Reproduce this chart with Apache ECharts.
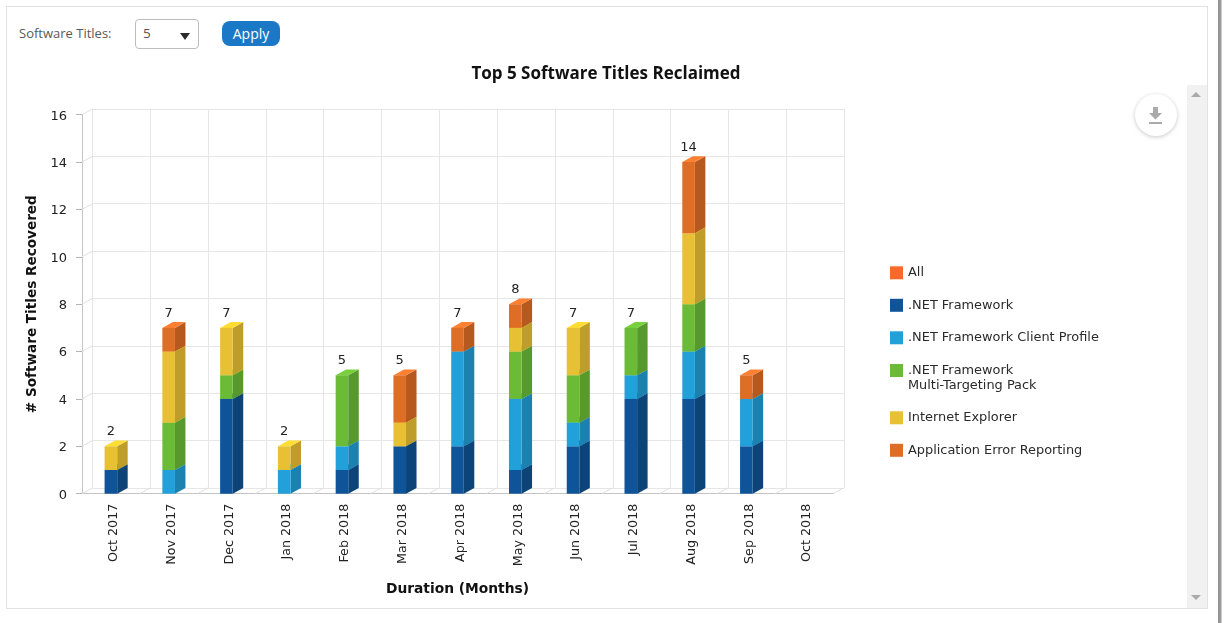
<!DOCTYPE html>
<html>
<head>
<meta charset="utf-8">
<title>Top 5 Software Titles Reclaimed</title>
<script src="https://cdn.jsdelivr.net/npm/echarts@6/dist/echarts.min.js"></script>
<style>
  html, body { margin: 0; padding: 0; background: #fff; }
  body { width: 1225px; height: 623px; position: relative; overflow: hidden; }
  #card { position: absolute; left: 6px; top: 6px; width: 1200px; height: 601px; border: 1.5px solid #e2e2e2; }
  #edge { position: absolute; left: 1218px; top: 0; width: 4px; height: 623px; background: linear-gradient(to right, #8f8f8f, #9a9a9a 60%, #e0e0e0); }
  #track { position: absolute; left: 1187px; top: 85px; width: 20px; height: 523px; background: #f1f1f1; }
  .arrow { position: absolute; left: 1191px; width: 0; height: 0; border-left: 5px solid transparent; border-right: 5px solid transparent; }
  #up { top: 92px; border-bottom: 5px solid #aaa; }
  #down { top: 595px; border-top: 5px solid #aaa; }
  #lbl { position: absolute; left: 19px; top: 24px; font: 13px "Open Sans", sans-serif; color: #5a5a5a; }
  #sel { position: absolute; left: 135px; top: 19px; width: 62px; height: 28px; border: 1px solid #bdbdbd; border-radius: 4px; font: 13.5px "Open Sans", sans-serif; color: #555; }
  #sel span { position: absolute; left: 7px; top: 4px; }
  #sel i { position: absolute; left: 44px; top: 13px; width: 0; height: 0; border-left: 5px solid transparent; border-right: 5px solid transparent; border-top: 7px solid #2b2b2b; }
  #apply { position: absolute; left: 222px; top: 21px; width: 58px; height: 25px; background: #1b78c6; border-radius: 8px; color: #fff; font: 14px/25px "Open Sans", sans-serif; text-align: center; }
  #dl { position: absolute; left: 1135px; top: 94px; width: 42px; height: 42px; border-radius: 50%; background: #fff; box-shadow: 0 1px 4px rgba(0,0,0,.22); }
  #dl svg { position: absolute; left: 13px; top: 12px; }
  #chart { position: absolute; left: 0; top: 0; width: 1225px; height: 623px; }
</style>
</head>
<body>
<div id="card"></div>
<div id="edge"></div>
<div id="track"></div>
<div id="up" class="arrow"></div>
<div id="down" class="arrow"></div>
<div id="lbl">Software Titles:</div>
<div id="sel"><span>5</span><i></i></div>
<div id="apply">Apply</div>
<div id="chart"></div>
<div id="dl"><svg width="16" height="20" viewBox="0 0 16 20"><path d="M5 1h5v6h4l-6.5 6.5L1 7h4z" fill="#aaa"/><rect x="1" y="16" width="13" height="2" fill="#aaa"/></svg></div>
<script>
// Months on the category axis
const months = ['Oct 2017', 'Nov 2017', 'Dec 2017', 'Jan 2018', 'Feb 2018', 'Mar 2018', 'Apr 2018',
                'May 2018', 'Jun 2018', 'Jul 2018', 'Aug 2018', 'Sep 2018', 'Oct 2018'];
const yTicks = [0, 2, 4, 6, 8, 10, 12, 14, 16];

// Titles reclaimed per month, one array per software title
const dotNet        = [1, 0, 4, 0, 1, 2, 2, 1, 2, 4, 4, 2, 0];
const clientProfile = [0, 1, 0, 1, 1, 0, 4, 3, 1, 1, 2, 2, 0];
const multiTarget   = [0, 2, 1, 0, 3, 0, 0, 2, 2, 2, 2, 0, 0];
const ie            = [1, 3, 2, 1, 0, 1, 0, 1, 2, 0, 3, 0, 0];
const appError      = [0, 1, 0, 0, 0, 2, 1, 1, 0, 0, 3, 1, 0];
const totals        = [2, 7, 7, 2, 5, 5, 7, 8, 7, 7, 14, 5, 0];

const multiName = '.NET Framework Multi-Targeting Pack';
const stackDefs = [
  { name: '.NET Framework', values: dotNet, front: '#0f5499', side: '#0c4478', top: '#1161a8' },
  { name: '.NET Framework Client Profile', values: clientProfile, front: '#21a0da', side: '#1b82b0', top: '#2ab0ee' },
  { name: multiName, values: multiTarget, front: '#6cbb37', side: '#58992d', top: '#78d03d' },
  { name: 'Internet Explorer', values: ie, front: '#e8c034', side: '#bf9d2b', top: '#ffdd33' },
  { name: 'Application Error Reporting', values: appError, front: '#de6e26', side: '#b5591f', top: '#ff8030' }
];

// Depth of the extruded columns and of the back wall, in pixels
const DEPTH_X = 10.5;
const DEPTH_Y = 5.8;
const FONT = '"DejaVu Sans", Verdana, sans-serif';

function poly(points, fill) {
  return { type: 'polygon', shape: { points }, style: { fill }, silent: true };
}

// Column segment: front face, right side and top face
function renderSegment(def) {
  return function (params, api) {
    const band = api.size([1, 0])[0];
    const half = band * 0.109;
    const low = api.coord([api.value(0), api.value(1)]);
    const high = api.coord([api.value(0), api.value(2)]);
    const l = low[0] - half, r = low[0] + half;
    return {
      type: 'group',
      children: [
        poly([[r, high[1]], [r + DEPTH_X, high[1] - DEPTH_Y], [r + DEPTH_X, low[1] - DEPTH_Y], [r, low[1]]], def.side),
        poly([[l, high[1]], [l + DEPTH_X, high[1] - DEPTH_Y], [r + DEPTH_X, high[1] - DEPTH_Y], [r, high[1]]], def.top),
        poly([[l, high[1]], [r, high[1]], [r, low[1]], [l, low[1]]], def.front)
      ]
    };
  };
}

// Cumulative start/end pairs for each title in the stack
const running = months.map(() => 0);
const segmentSeries = stackDefs.map(def => {
  const data = [];
  def.values.forEach((v, i) => {
    if (v > 0) data.push([i, running[i], running[i] + v]);
    running[i] += v;
  });
  return {
    type: 'custom', name: def.name, z: 5, silent: true,
    itemStyle: { color: def.front },
    encode: { x: 0, y: [1, 2] },
    renderItem: renderSegment(def),
    data
  };
});

const line = (x1, y1, x2, y2, stroke) => ({
  type: 'line', shape: { x1, y1, x2, y2 }, style: { stroke, lineWidth: 1 }, silent: true
});

const legendText = { fontFamily: FONT, fontSize: 12.9, color: '#2a2a2a', lineHeight: 15 };

const option = {
  animation: false,
  textStyle: { fontFamily: FONT },
  title: {
    text: 'Top 5 Software Titles Reclaimed',
    left: 601, top: 61, textAlign: 'center',
    textStyle: { fontFamily: '"Open Sans", sans-serif', fontSize: 17, fontWeight: 'bold', color: '#111' }
  },
  legend: [
    {
      left: 885, top: 260.3, orient: 'vertical', selectedMode: false,
      itemWidth: 13, itemHeight: 13, itemGap: 17.5, icon: 'rect', textStyle: legendText,
      data: ['All', '.NET Framework', '.NET Framework Client Profile']
    },
    {
      // The blank first line keeps the swatch level with the first line of the name
      left: 885, top: 343, orient: 'vertical', selectedMode: false,
      itemWidth: 13, itemHeight: 13, icon: 'rect', textStyle: legendText,
      formatter: () => '\n.NET Framework\nMulti-Targeting Pack',
      data: [multiName]
    },
    {
      left: 885, top: 405.3, orient: 'vertical', selectedMode: false,
      itemWidth: 13, itemHeight: 13, itemGap: 17.5, icon: 'rect', textStyle: legendText,
      data: ['Internet Explorer', 'Application Error Reporting']
    }
  ],
  grid: [
    { left: 82, right: 392, top: 114.7, bottom: 129.3 },
    { left: 92.5, right: 381, top: 108.9, bottom: 135.1 }
  ],
  xAxis: [
    {
      type: 'category', gridIndex: 0, data: months,
      name: 'Duration (Months)', nameLocation: 'middle', nameGap: 89,
      nameTextStyle: { fontFamily: FONT, fontSize: 13.8, fontWeight: 'bold', color: '#111' },
      axisLine: { lineStyle: { color: '#c4c4c4' } },
      axisTick: { alignWithLabel: true, length: 5, lineStyle: { color: '#e4e4e4' } },
      axisLabel: { rotate: 90, interval: 0, margin: 10, fontFamily: FONT, fontSize: 12.7, color: '#222', verticalAlign: 'top', lineHeight: 6 },
      splitLine: { show: false }
    },
    {
      type: 'category', gridIndex: 1, data: months,
      axisLine: { show: false }, axisTick: { show: false }, axisLabel: { show: false },
      splitLine: { show: true, interval: 0, lineStyle: { color: '#e6e6e6' } }
    }
  ],
  yAxis: [
    {
      type: 'value', gridIndex: 0, min: 0, max: 16, interval: 2,
      name: '# Software Titles Recovered', nameLocation: 'middle', nameGap: 40, nameRotate: 90,
      nameTextStyle: { fontFamily: FONT, fontSize: 13.6, fontWeight: 'bold', color: '#111' },
      axisLine: { show: true, lineStyle: { color: '#c4c4c4' } },
      axisTick: { show: true, length: 6, lineStyle: { color: '#b4b4b4' } },
      axisLabel: { margin: 15, fontFamily: FONT, fontSize: 13, color: '#222', verticalAlign: 'top', lineHeight: 3 },
      splitLine: { show: false }
    },
    {
      type: 'value', gridIndex: 1, min: 0, max: 16, interval: 2,
      axisLine: { show: false }, axisTick: { show: false }, axisLabel: { show: false },
      splitLine: { show: true, lineStyle: { color: '#e6e6e6' } }
    }
  ],
  series: [
    { type: 'custom', name: 'All', itemStyle: { color: '#f96a2a' }, encode: { x: 0, y: 1 },
      renderItem: () => null, data: [] },
    {
      // Slanted joins between the front edge and the back wall
      type: 'custom', name: 'wallLeft', z: 1, silent: true, encode: { x: 0, y: 1 },
      renderItem(params, api) {
        const p = api.coord([0, api.value(1)]);
        const x = p[0] - api.size([1, 0])[0] / 2;
        return line(x, p[1], x + DEPTH_X, p[1] - DEPTH_Y, '#e0e0e0');
      },
      data: yTicks.map(v => [0, v])
    },
    {
      type: 'custom', name: 'wallFloor', z: 1, silent: true, encode: { x: 0, y: 1 },
      renderItem(params, api) {
        const p = api.coord([api.value(0), 0]);
        const x = p[0] + api.size([1, 0])[0] / 2;
        return line(x, p[1], x + DEPTH_X, p[1] - DEPTH_Y, '#e0e0e0');
      },
      data: months.map((m, i) => [i, 0])
    },
    ...segmentSeries,
    {
      // Month totals printed above each column
      type: 'custom', name: 'Total', z: 6, silent: true, encode: { x: 0, y: 1 },
      renderItem(params, api) {
        const p = api.coord([api.value(0), api.value(1)]);
        return {
          type: 'text', silent: true,
          style: {
            x: p[0], y: p[1] - 14.5, text: String(api.value(1)),
            align: 'center', verticalAlign: 'middle',
            font: '13px ' + FONT, fill: '#222'
          }
        };
      },
      data: totals.map((v, i) => [i, v]).filter(d => d[1] > 0)
    }
  ]
};

const chart = echarts.init(document.getElementById('chart'));
chart.setOption(option);
</script>
</body>
</html>
